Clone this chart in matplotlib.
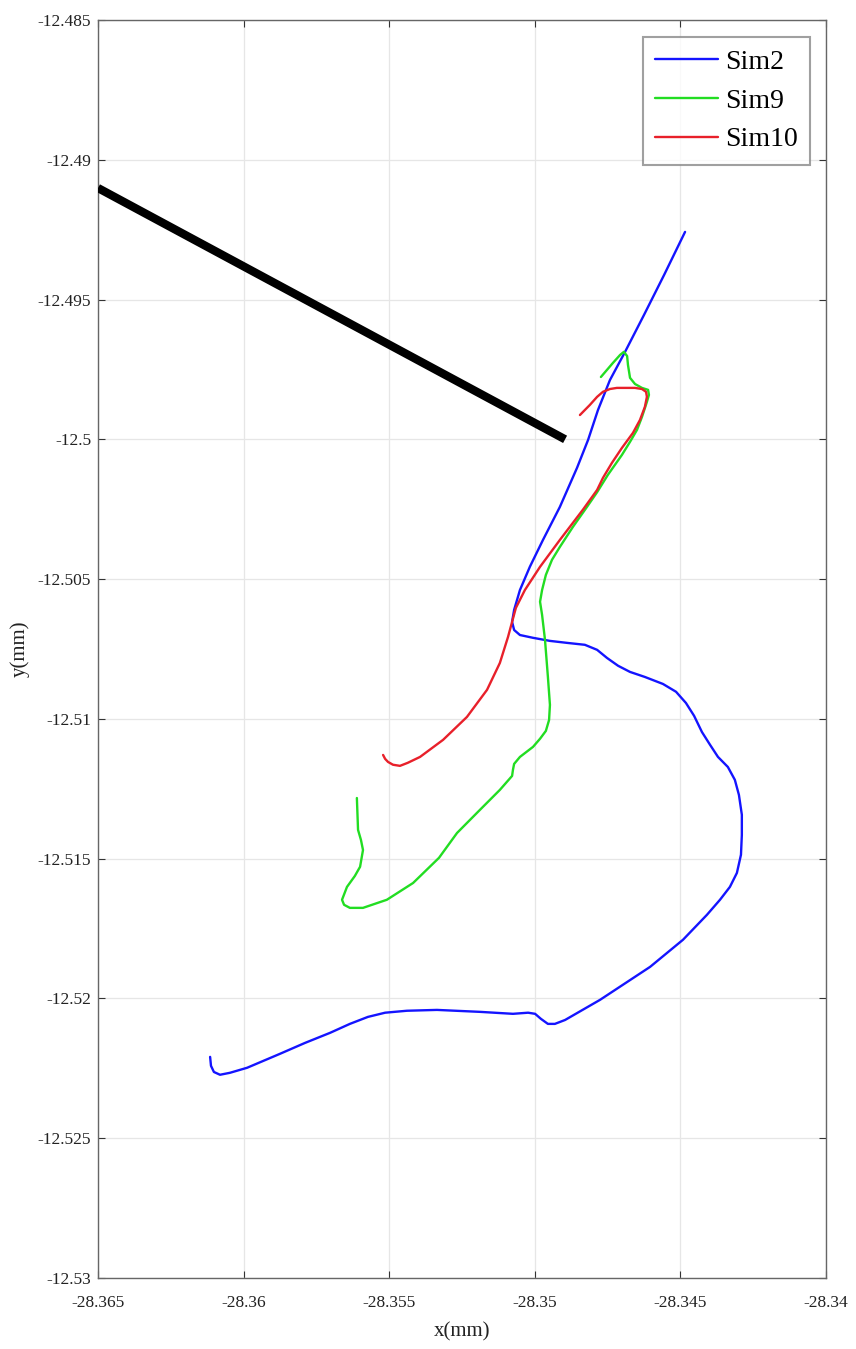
import matplotlib
matplotlib.use("Agg")
import matplotlib.pyplot as plt
from matplotlib.ticker import FuncFormatter

plt.rcParams['font.family'] = ['Liberation Serif', 'DejaVu Serif']
plt.rcParams['axes.unicode_minus'] = False

# Sim2 (blue)
sim2_x = [-28.34484, -28.34556, -28.34625, -28.34690, -28.34742, -28.34783, -28.34817,
          -28.34855, -28.34914, -28.34972, -28.35017, -28.35051, -28.35071, -28.35078,
          -28.35071, -28.35051, -28.35006, -28.34948, -28.34890, -28.34828, -28.34786,
          -28.34752, -28.34714, -28.34673, -28.34622, -28.34560, -28.34515, -28.34481,
          -28.34453, -28.34426, -28.34398, -28.34371, -28.34337, -28.34313, -28.34299,
          -28.34289, -28.34289, -28.34292, -28.34306, -28.34330, -28.34364, -28.34409,
          -28.34491, -28.34604, -28.34776, -28.34896, -28.34931, -28.34955, -28.34979,
          -28.34999, -28.35023, -28.35075, -28.35188, -28.35336, -28.35439, -28.35514,
          -28.35573, -28.35635, -28.35703, -28.35789, -28.35875, -28.35988, -28.36047,
          -28.36081, -28.36102, -28.36112, -28.36115]
sim2_y = [-12.49258, -12.49412, -12.49555, -12.49687, -12.49788, -12.49895, -12.50002,
          -12.50102, -12.50242, -12.50360, -12.50456, -12.50539, -12.50610, -12.50653,
          -12.50682, -12.50700, -12.50710, -12.50721, -12.50728, -12.50735, -12.50753,
          -12.50782, -12.50810, -12.50832, -12.50850, -12.50875, -12.50903, -12.50943,
          -12.50989, -12.51047, -12.51093, -12.51136, -12.51172, -12.51218, -12.51272,
          -12.51343, -12.51415, -12.51486, -12.51551, -12.51601, -12.51647, -12.51701,
          -12.51790, -12.51887, -12.52005, -12.52077, -12.52091, -12.52091, -12.52073,
          -12.52055, -12.52051, -12.52055, -12.52048, -12.52041, -12.52044, -12.52051,
          -12.52066, -12.52091, -12.52123, -12.52159, -12.52198, -12.52248, -12.52266,
          -12.52273, -12.52263, -12.52241, -12.52209]

# Sim9 (green)
sim9_x = [-28.34773, -28.34732, -28.34707, -28.34694, -28.34683, -28.34680, -28.34673,
          -28.34656, -28.34632, -28.34611, -28.34608, -28.34615, -28.34632, -28.34649,
          -28.34673, -28.34701, -28.34749, -28.34786, -28.34821, -28.34869, -28.34914,
          -28.34941, -28.34962, -28.34975, -28.34982, -28.34975, -28.34965, -28.34955,
          -28.34948, -28.34951, -28.34962, -28.34982, -28.35006, -28.35051, -28.35071,
          -28.35075, -28.35078, -28.35120, -28.35188, -28.35267, -28.35329, -28.35418,
          -28.35508, -28.35590, -28.35635, -28.35655, -28.35662, -28.35645, -28.35618,
          -28.35600, -28.35590, -28.35597, -28.35607, -28.35611]
sim9_y = [-12.49777, -12.49727, -12.49698, -12.49687, -12.49702, -12.49734, -12.49780,
          -12.49802, -12.49816, -12.49823, -12.49841, -12.49866, -12.49920, -12.49966,
          -12.50009, -12.50056, -12.50127, -12.50189, -12.50242, -12.50313, -12.50385,
          -12.50431, -12.50485, -12.50539, -12.50581, -12.50628, -12.50717, -12.50850,
          -12.50950, -12.51004, -12.51043, -12.51071, -12.51100, -12.51136, -12.51161,
          -12.51182, -12.51204, -12.51254, -12.51325, -12.51408, -12.51497, -12.51587,
          -12.51647, -12.51676, -12.51676, -12.51665, -12.51647, -12.51601, -12.51562,
          -12.51529, -12.51469, -12.51433, -12.51397, -12.51283]

# Sim10 (red)
sim10_x = [-28.34845, -28.34811, -28.34786, -28.34766, -28.34742, -28.34718, -28.34656,
           -28.34632, -28.34618, -28.34615, -28.34622, -28.34639, -28.34663, -28.34701,
           -28.34735, -28.34766, -28.34786, -28.34835, -28.34914, -28.34982, -28.35034,
           -28.35065, -28.35078, -28.35092, -28.35120, -28.35164, -28.35233, -28.35315,
           -28.35394, -28.35436, -28.35463, -28.35487, -28.35504, -28.35514, -28.35521]
sim10_y = [-12.49913, -12.49877, -12.49848, -12.49830, -12.49820, -12.49816, -12.49816,
           -12.49820, -12.49830, -12.49848, -12.49884, -12.49931, -12.49977, -12.50031,
           -12.50084, -12.50138, -12.50181, -12.50252, -12.50360, -12.50456, -12.50539,
           -12.50603, -12.50653, -12.50707, -12.50800, -12.50896, -12.50993, -12.51075,
           -12.51136, -12.51157, -12.51168, -12.51164, -12.51154, -12.51143, -12.51129]

# tool (black thick line)
tool_x = [-28.3650, -28.34896]
tool_y = [-12.49101, -12.50000]

x_ticks = [-28.365, -28.36, -28.355, -28.35, -28.345, -28.34]
y_ticks = [-12.485, -12.49, -12.495, -12.5, -12.505, -12.51, -12.515, -12.52, -12.525, -12.53]

fig = plt.figure(figsize=(8.56, 13.49), dpi=100)
ax = fig.add_axes([98/856, 1 - 1278/1349, (826-98)/856, (1278-20)/1349])

ax.plot(tool_x, tool_y, color='black', lw=6, solid_capstyle='butt', zorder=3)
line_kw = dict(lw=1.7, solid_joinstyle='round', solid_capstyle='round')
ax.plot(sim2_x, sim2_y, color='#1414ff', label='Sim2', zorder=4, **line_kw)
ax.plot(sim9_x, sim9_y, color='#22dd22', label='Sim9', zorder=4, **line_kw)
ax.plot(sim10_x, sim10_y, color='#e8202a', label='Sim10', zorder=5, **line_kw)

ax.set_xlim(-28.365, -28.34)
ax.set_ylim(-12.53, -12.485)
ax.set_xticks(x_ticks)
ax.set_yticks(y_ticks)
fmt = FuncFormatter(lambda v, p: '%g' % round(v, 6))
ax.xaxis.set_major_formatter(fmt)
ax.yaxis.set_major_formatter(fmt)
ax.grid(True, color='#e6e6e6', lw=0.9)
ax.set_axisbelow(True)
ax.tick_params(direction='in', length=5, width=0.8, colors='#333333',
               labelsize=12.5, top=True, right=True, labelcolor='#222222')
ax.tick_params(axis='x', pad=12)
ax.tick_params(axis='y', pad=5)
for s in ax.spines.values():
    s.set_color('#666666')
    s.set_linewidth(1.0)

ax.set_xlabel('x(mm)', fontsize=15, color='#222222', labelpad=8)
ax.set_ylabel('y(mm)', fontsize=15, color='#222222', labelpad=6)

leg = ax.legend(loc='upper right', bbox_to_anchor=(810/856, 1 - 37/1349),
                bbox_transform=fig.transFigure, fontsize=20, frameon=True,
                fancybox=False, handlelength=2.25, borderaxespad=0, labelspacing=0.48,
                handletextpad=0.25, borderpad=0.45)
leg.get_frame().set_edgecolor('#888888')
leg.get_frame().set_linewidth(1.5)

fig.savefig('out.png', dpi=100)
